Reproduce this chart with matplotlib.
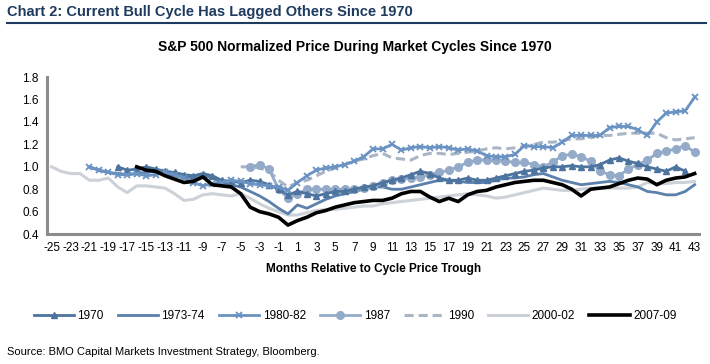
"""S&P 500 normalized price during market cycles since 1970 (BMO chart 2)."""
import matplotlib
matplotlib.use("Agg")
import matplotlib.pyplot as plt
import numpy as np

NARROW = ["Liberation Sans Narrow", "Liberation Sans", "DejaVu Sans"]
plt.rcParams["font.family"] = ["Liberation Sans", "DejaVu Sans"]

MONTHS = list(range(-25, 44))

# each cycle: first month shown, then monthly normalized price
CYCLE_1970_START = -18
CYCLE_1970 = [1.00, 0.97, 0.98, 1.00, 0.98, 0.96, 0.95, 0.93, 0.92, 0.94,
              0.92, 0.88, 0.87, 0.86, 0.88, 0.87, 0.84, 0.80, 0.75, 0.78,
              0.76, 0.74, 0.76, 0.78, 0.78, 0.80, 0.82, 0.83, 0.86, 0.88,
              0.90, 0.93, 0.96, 0.94, 0.90, 0.88, 0.88, 0.90, 0.88, 0.88,
              0.90, 0.92, 0.94, 0.96, 0.97, 0.99, 1.00, 1.00, 1.01, 1.00,
              1.00, 1.02, 1.06, 1.08, 1.05, 1.03, 1.00, 0.98, 0.96, 1.00,
              0.96]
CYCLE_1973_START = -21
CYCLE_1973 = [1.00, 0.97, 0.95, 0.94, 0.93, 0.94, 0.95, 0.96, 0.94, 0.92,
              0.90, 0.91, 0.92, 0.90, 0.86, 0.84, 0.82, 0.78, 0.74, 0.69,
              0.63, 0.58, 0.66, 0.63, 0.67, 0.71, 0.74, 0.76, 0.78, 0.80,
              0.82, 0.82, 0.80, 0.80, 0.82, 0.84, 0.86, 0.88, 0.88, 0.87,
              0.86, 0.86, 0.86, 0.88, 0.90, 0.90, 0.91, 0.93, 0.94, 0.91,
              0.88, 0.86, 0.84, 0.85, 0.86, 0.87, 0.86, 0.84, 0.82, 0.78,
              0.77, 0.75, 0.75, 0.78, 0.84]
CYCLE_1980_START = -21
CYCLE_1980 = [1.00, 0.97, 0.95, 0.93, 0.93, 0.94, 0.92, 0.93, 0.95, 0.93,
              0.90, 0.86, 0.83, 0.85, 0.86, 0.88, 0.87, 0.85, 0.84, 0.83,
              0.82, 0.79, 0.86, 0.92, 0.97, 0.99, 1.00, 1.02, 1.05, 1.09,
              1.16, 1.16, 1.20, 1.15, 1.17, 1.18, 1.17, 1.18, 1.17, 1.15,
              1.16, 1.14, 1.10, 1.09, 1.09, 1.11, 1.19, 1.18, 1.18, 1.17,
              1.22, 1.28, 1.28, 1.28, 1.28, 1.35, 1.36, 1.36, 1.33, 1.28,
              1.40, 1.48, 1.49, 1.50, 1.62]
CYCLE_1987_START = -4
CYCLE_1987 = [1.00, 1.02, 0.98, 0.80, 0.72, 0.76, 0.80, 0.80, 0.80, 0.80,
              0.80, 0.80, 0.81, 0.83, 0.86, 0.88, 0.89, 0.90, 0.91, 0.93,
              0.95, 0.97, 1.00, 1.04, 1.06, 1.06, 1.06, 1.05, 1.04, 1.04,
              1.02, 1.00, 1.04, 1.10, 1.11, 1.09, 1.05, 0.96, 0.93, 0.92,
              0.98, 1.02, 1.06, 1.12, 1.14, 1.16, 1.19, 1.13]
CYCLE_1990_START = -5
CYCLE_1990 = [1.00, 1.00, 0.99, 0.96, 0.88, 0.82, 0.86, 0.88, 0.92, 0.96,
              0.99, 1.02, 1.05, 1.07, 1.10, 1.12, 1.08, 1.07, 1.06, 1.10,
              1.12, 1.12, 1.11, 1.12, 1.13, 1.14, 1.16, 1.17, 1.16, 1.17,
              1.18, 1.20, 1.22, 1.22, 1.23, 1.25, 1.25, 1.26, 1.28, 1.28,
              1.29, 1.30, 1.30, 1.30, 1.30, 1.26, 1.24, 1.25, 1.26]
CYCLE_2000_START = -25
CYCLE_2000 = [1.00, 0.96, 0.94, 0.94, 0.88, 0.88, 0.90, 0.82, 0.77, 0.83,
              0.83, 0.82, 0.81, 0.76, 0.70, 0.71, 0.75, 0.76, 0.75, 0.74,
              0.76, 0.72, 0.67, 0.63, 0.60, 0.57, 0.57, 0.59, 0.61, 0.62,
              0.62, 0.63, 0.64, 0.65, 0.65, 0.67, 0.68, 0.69, 0.70, 0.71,
              0.72, 0.73, 0.74, 0.75, 0.76, 0.75, 0.74, 0.72, 0.73, 0.75,
              0.77, 0.79, 0.81, 0.80, 0.79, 0.79, 0.80, 0.81, 0.81, 0.81,
              0.81, 0.81, 0.82, 0.86, 0.85, 0.85, 0.86, 0.86, 0.87]
CYCLE_2007_START = -16
CYCLE_2007 = [1.00, 0.97, 0.96, 0.92, 0.89, 0.86, 0.87, 0.91, 0.84, 0.83,
              0.82, 0.76, 0.64, 0.60, 0.58, 0.55, 0.48, 0.52, 0.55, 0.59,
              0.61, 0.64, 0.66, 0.68, 0.69, 0.70, 0.70, 0.72, 0.76, 0.78,
              0.78, 0.73, 0.69, 0.72, 0.69, 0.75, 0.78, 0.79, 0.82, 0.84,
              0.86, 0.87, 0.88, 0.88, 0.86, 0.84, 0.80, 0.74, 0.80, 0.81,
              0.82, 0.85, 0.88, 0.90, 0.89, 0.84, 0.88, 0.90, 0.91, 0.94]

LABELS = ["1970", "1973-74", "1980-82", "1987", "1990", "2000-02", "2007-09"]


def on_months(start, values):
    """Place a cycle's values on the shared month axis (NaN elsewhere)."""
    out = np.full(len(MONTHS), np.nan)
    i = MONTHS.index(start)
    out[i:i + len(values)] = values
    return out


series = [
    (on_months(CYCLE_2000_START, CYCLE_2000), dict(color="#cdd1d8", lw=2.2)),
    (on_months(CYCLE_1990_START, CYCLE_1990), dict(color="#aab6c6", lw=2.2, ls=(0, (3, 1.6)))),
    (on_months(CYCLE_1973_START, CYCLE_1973), dict(color="#5a80ab", lw=2.0)),
    (on_months(CYCLE_1987_START, CYCLE_1987), dict(color="#93abc9", lw=2.0, marker="o", ms=5.5)),
    (on_months(CYCLE_1970_START, CYCLE_1970), dict(color="#4d739f", lw=2.0, marker="^", ms=4)),
    (on_months(CYCLE_1980_START, CYCLE_1980), dict(color="#6a92c2", lw=2.0, marker="x", ms=5, mew=1.3)),
    (on_months(CYCLE_2007_START, CYCLE_2007), dict(color="black", lw=2.6)),
]
legend_order = [4, 2, 5, 3, 1, 0, 6]
series_labels = ["2000-02", "1990", "1973-74", "1987", "1970", "1980-82", "2007-09"]

fig = plt.figure(figsize=(7.10, 3.64), dpi=100)
ax = fig.add_axes([0.066, 0.357, 0.919, 0.431])
x = np.arange(len(MONTHS))
handles = []
for (vals, style), lab in zip(series, series_labels):
    h, = ax.plot(x, vals, label=lab, **style)
    handles.append(h)

ax.set_xlim(-0.5, len(MONTHS) - 0.5)
ax.set_ylim(0.4, 1.8)
ax.set_yticks(np.arange(0.4, 1.81, 0.2))
ax.set_yticklabels([f"{v:.1f}" for v in np.arange(0.4, 1.81, 0.2)], family=NARROW, fontsize=8.5)
ax.set_xticks(x[::2])
ax.set_xticklabels([str(m) for m in MONTHS[::2]], family=NARROW, fontsize=8.5)
ax.tick_params(length=0, pad=6)
for side in ("top", "right"):
    ax.spines[side].set_visible(False)
for side in ("left", "bottom"):
    ax.spines[side].set_color("#8c8c8c")
    ax.spines[side].set_linewidth(2.2)
ax.set_xlabel("Months Relative to Cycle Price Trough", fontsize=8.5, fontweight="bold", labelpad=6)

fig.text(0.01, 0.968, "Chart 2: Current Bull Cycle Has Lagged Others Since 1970",
         family=NARROW, fontsize=10.5, fontweight="bold", color="#1f3a5f", va="center")
fig.add_artist(plt.Line2D([0.01, 0.995], [0.937, 0.937], color="#1f3a5f", lw=1.5))
fig.text(0.5, 0.87, "S&P 500 Normalized Price During Market Cycles Since 1970",
         fontsize=10, fontweight="bold", ha="center", va="center")

fig.legend([handles[i] for i in legend_order], LABELS, loc="center", ncol=7,
           bbox_to_anchor=(0.5, 0.132), frameon=False, handlelength=3.4,
           columnspacing=1.2, handletextpad=0.3, prop={"family": NARROW, "size": 8.5})
fig.text(0.01, 0.033, "Source: BMO Capital Markets Investment Strategy, Bloomberg.",
         family=NARROW, fontsize=8, va="center")

fig.savefig("out.png", dpi=100)
